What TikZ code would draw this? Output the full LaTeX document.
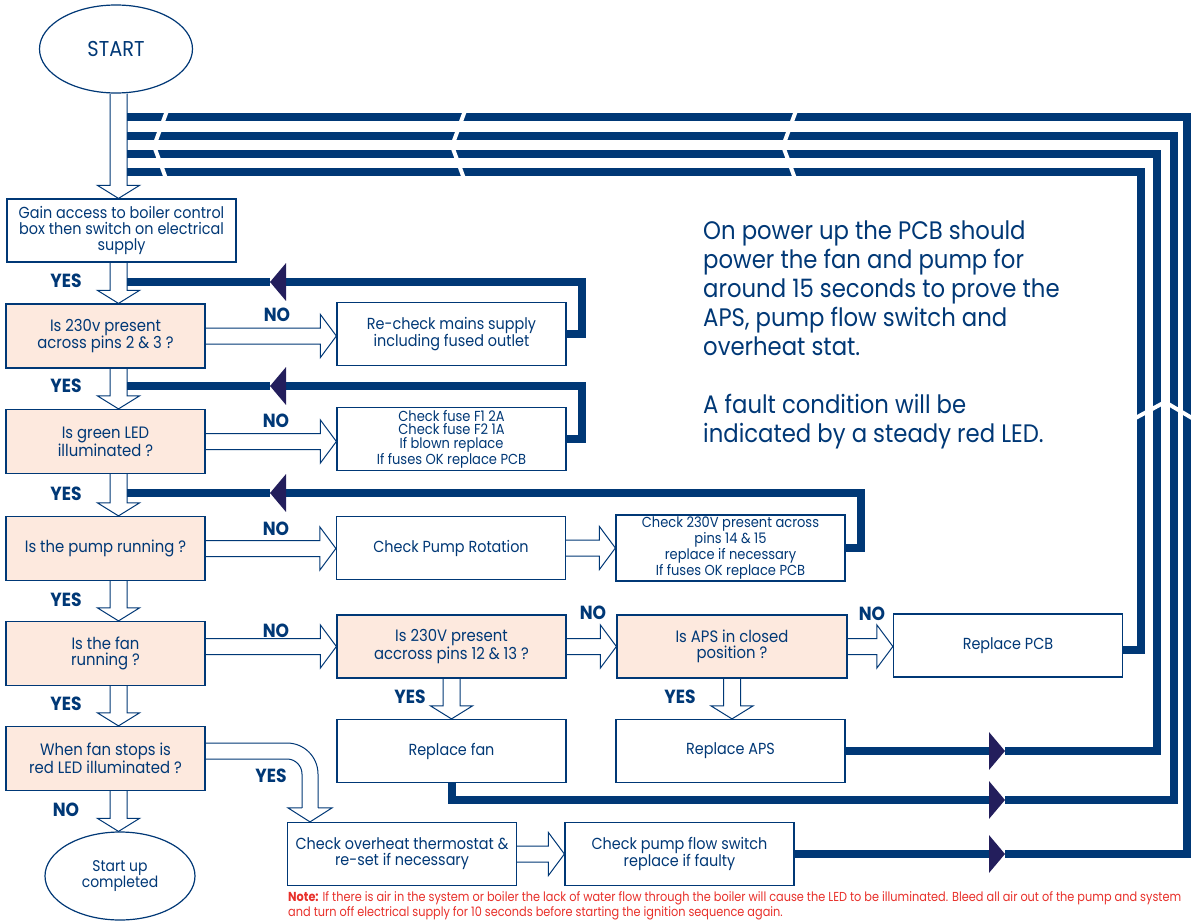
\documentclass[tikz,border=0pt]{standalone}
\usepackage{fontspec}
\setmainfont{Poppins}[FakeStretch=0.9]
\newfontfamily\notefont{Poppins}[FakeStretch=0.87]
\usetikzlibrary{arrows.meta,calc,shapes.geometric}

\definecolor{navy}{RGB}{0,56,118}
\definecolor{tipc}{RGB}{35,30,92}
\definecolor{peach}{RGB}{253,233,222}
\definecolor{notered}{RGB}{232,48,42}

% hollow block arrows (start, tip)
\newcommand{\blockdown}[2]{%
  \draw[blk] let \p1=(#1), \p2=(#2) in
    (\x1-8.5pt,\y1) -- (\x1-8.5pt,\y2+13pt) -- (\x1-21pt,\y2+13pt) -- (\x1,\y2)
    -- (\x1+21pt,\y2+13pt) -- (\x1+8.5pt,\y2+13pt) -- (\x1+8.5pt,\y1);}
\newcommand{\blockright}[2]{%
  \draw[blk] let \p1=(#1), \p2=(#2) in
    (\x1,\y1+8pt) -- (\x2-16pt,\y1+8pt) -- (\x2-16pt,\y1+21.5pt) -- (\x2,\y1)
    -- (\x2-16pt,\y1-21.5pt) -- (\x2-16pt,\y1-8pt) -- (\x1,\y1-8pt);}

\begin{document}
\begin{tikzpicture}[x=1pt, y=-1pt, line join=miter, >={Triangle[length=16pt,width=37pt,color=tipc]},
  box/.style={draw=navy, line width=1.2pt, minimum width=229pt, minimum height=63pt, inner sep=2pt,
    align=center, text=navy, font=\fontsize{16}{16}\selectfont},
  ask/.style={box, fill=peach, minimum width=199pt, minimum height=64pt, font=\fontsize{16.5}{16}\selectfont},
  dense/.style={font=\fontsize{14.5}{13.5}\selectfont},
  oval/.style={ellipse, draw=navy, line width=1.2pt, align=center, text=navy},
  blk/.style={draw=navy, line width=1pt},
  fb/.style={draw=navy, line width=8pt},
  lbl/.style={text=navy, inner sep=0pt, font=\bfseries\fontsize{19}{19}\selectfont}]
	\useasboundingbox[fill=white] (0,0) rectangle (1192,921);
	% Main column
	\node[oval, minimum width=153pt, minimum height=88pt, font=\fontsize{21.5}{21}\selectfont] (start) at (116,49) {START};
	\node[box] (access) at (121.5,230.5) {Gain access to boiler control\\box then switch on electrical\\supply};
	\node[ask] (q230) at (105.5,336) {Is 230v present\\across pins 2 \& 3 ?};
	\node[ask] (qled) at (105.5,441.5) {Is green LED\\illuminated ?};
	\node[ask] (qpump) at (105.5,548.5) {Is the pump running ?};
	\node[ask] (qfan) at (105.5,653.5) {Is the fan\\running ?};
	\node[ask] (qred) at (105.5,758.5) {When fan stops is\\red LED illuminated ?};
	\node[oval, minimum width=150pt, minimum height=88pt, font=\fontsize{15.5}{16}\selectfont] (done) at (120,876) {Start up\\completed};
	% Right hand boxes
	\node[box] (mains) at (451.5,334) {Re-check mains supply\\including fused outlet};
	\node[box, dense] (fuses) at (451.5,439) {Check fuse F1 2A\\Check fuse F2 1A\\If blown replace\\If fuses OK replace PCB};
	\node[box] (rot) at (451,548) {Check Pump Rotation};
	\node[box, dense] (pins) at (730.5,548) {Check 230V present across\\pins 14 \& 15\\replace if necessary\\If fuses OK replace PCB};
	\node[ask, minimum width=229pt, minimum height=63pt] (qfanv) at (451.5,646.5) {Is 230V present\\accross pins 12 \& 13 ?};
	\node[ask, minimum width=230pt, minimum height=63pt] (qaps) at (732,646.5) {Is APS in closed\\position ?};
	\node[box] (pcb) at (1008,645.5) {Replace PCB};
	\node[box] (fan) at (451.5,751) {Replace fan};
	\node[box] (aps) at (730.5,751) {Replace APS};
	\node[box] (ovh) at (402,854) {Check overheat thermostat \&\\re-set if necessary};
	\node[box] (flow) at (679.5,854) {Check pump flow switch\\replace if faulty};
	% Hilfspunkte
	\coordinate (col) at (118.5,0);
	\coordinate (cR) at (127,0);
	\coordinate (fwd) at (1005,0);
	\coordinate (back1) at (270,282);
	\coordinate (back2) at (270,386);
	\coordinate (back3) at (270,493);
	\coordinate (fanrun) at (1005,800);
	\coordinate (k1) at (1187,117);
	\coordinate (k2) at (1174,136);
	\coordinate (k3) at (1157,154);
	\coordinate (k4) at (1141,172);
	\coordinate (ytip) at ([xshift=-92pt]ovh.north);
	% Return lines
	\draw[fb,->] (mains.east) -- ++(15,0) |- (back1);
	\draw[fb] (back1) -- (back1 -| cR);
	\draw[fb,->] (fuses.east) -- ++(15,0) |- (back2);
	\draw[fb] (back2) -- (back2 -| cR);
	\draw[fb,->] (pins.east) -- ++(15,0) |- (back3);
	\draw[fb] (back3) -- (back3 -| cR);
	\draw[fb] ([yshift=-4pt]pcb.east) -| (k4) -- (k4 -| cR);
	\draw[fb,->] (aps.east) -- (aps.east -| fwd);
	\draw[fb] (aps.east -| fwd) -| (k3) -- (k3 -| cR);
	\draw[fb,->] (fan.south) |- (fanrun);
	\draw[fb] (fanrun) -| (k2) -- (k2 -| cR);
	\draw[fb,->] (flow.east) -- (flow.east -| fwd);
	\draw[fb] (flow.east -| fwd) -| (k1) -- (k1 -| cR);
	% Unterbrechungen
	\foreach \c in {161,459,790}
		\draw[white, line width=4pt] (\c+7,108) -- (\c-7,146) -- (\c+7,184);
	\draw[white, line width=4pt] (1130,421) -- (1165,402) -- (1197,421);
	% Block arrows
	\blockdown{start.south -| col}{access.north -| col}
	\blockdown{access.south -| col}{q230.north -| col}
	\blockdown{q230.south -| col}{qled.north -| col}
	\blockdown{qled.south -| col}{qpump.north -| col}
	\blockdown{qpump.south -| col}{qfan.north -| col}
	\blockdown{qfan.south -| col}{qred.north -| col}
	\blockdown{qred.south -| col}{done.north -| col}
	\blockdown{qfanv.south}{fan.north}
	\blockdown{qaps.south}{aps.north}
	\blockright{q230.east}{mains.west}
	\blockright{qled.east}{fuses.west}
	\blockright{qpump.east}{rot.west}
	\blockright{rot.east}{pins.west}
	\blockright{qfan.east |- qfanv.west}{qfanv.west}
	\blockright{qfanv.east}{qaps.west}
	\blockright{qaps.east}{pcb.west}
	\blockright{ovh.east}{flow.west}
	\draw[blk, rounded corners=31pt] ([yshift=15.5pt]qred.east) -| ($(ytip)+(8,-14)$);
	\draw[blk] ($(ytip)+(8,-14)$) -- ($(ytip)+(22,-14)$) -- (ytip) -- ($(ytip)+(-22,-14)$) -- ($(ytip)+(-8,-14)$);
	\draw[blk, rounded corners=15pt] ($(ytip)+(-8,-14)$) |- ([yshift=-0.5pt]qred.east);
	% YES / NO
	\node[lbl] (y1) at (66,281) {YES};
	\node[lbl] (y2) at (66,386) {YES};
	\node[lbl] (y3) at (66,494) {YES};
	\node[lbl] (y4) at (66,600) {YES};
	\node[lbl] (y5) at (66,704) {YES};
	\node[lbl] (n6) at (66,810) {NO};
	\node[lbl] (n1) at (277,315) {NO};
	\node[lbl] (n2) at (276,421) {NO};
	\node[lbl] (n3) at (276,529) {NO};
	\node[lbl] (n4) at (276,631) {NO};
	\node[lbl] (n5) at (593,613) {NO};
	\node[lbl] (n7) at (872,614) {NO};
	\node[lbl] (y6) at (410,697) {YES};
	\node[lbl] (y7) at (680,697) {YES};
	\node[lbl] (y8) at (271,776) {YES};
	% Text
	\node[anchor=north west, inner sep=0pt, align=left, text=navy, font=\fontsize{25.3}{29}\selectfont] (info) at (703,221)
		{On power up the PCB should\\power the fan and pump for\\around 15 seconds to prove the\\APS, pump flow switch and\\overheat stat.\\[29pt]A fault condition will be\\indicated by a steady red LED.};
	\node[anchor=north west, inner sep=0pt, align=left, text=notered, font=\notefont\fontsize{13}{15}\selectfont] (note) at (288,891)
		{\textbf{Note:} If there is air in the system or boiler the lack of water flow through the boiler will cause the LED to be illuminated. Bleed all air out of the pump and system\\and turn off electrical supply for 10 seconds before starting the ignition sequence again.};
\end{tikzpicture}
\end{document}
